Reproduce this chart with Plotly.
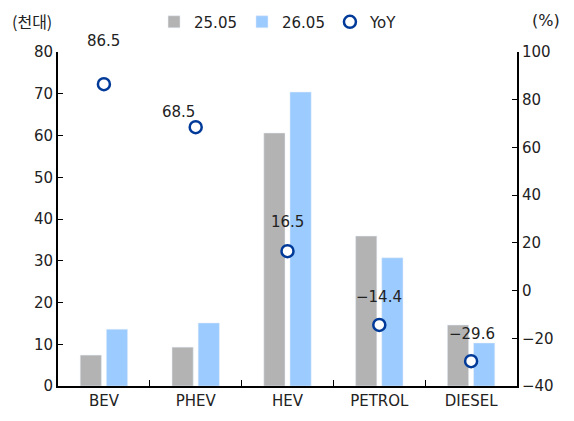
import plotly.graph_objects as go

categories = ["BEV", "PHEV", "HEV", "PETROL", "DIESEL"]
sales_2505 = [7.4, 9.3, 60.6, 35.9, 14.6]
sales_2605 = [13.6, 15.1, 70.4, 30.7, 10.3]
yoy = [86.5, 68.5, 16.5, -14.4, -29.6]
yoy_labels = ["86.5", "68.5", "16.5", "\u221214.4", "\u221229.6"]

# pixel offsets of the YoY labels relative to their markers
label_dx = [0, -17, 0, 0, 1]
label_dy = [43, 15, 29, 28, 27]

font = "DejaVu Sans, Noto Sans CJK KR, sans-serif"
txt = "#222222"

fig = go.Figure()
fig.add_bar(x=categories, y=sales_2505, name="25.05", marker_color="#b3b3b3")
fig.add_bar(x=categories, y=sales_2605, name="26.05", marker_color="#9ccbff")
fig.add_scatter(x=categories, y=yoy, name="YoY", yaxis="y2", mode="markers",
                marker=dict(symbol="circle", size=12, color="white",
                            line=dict(width=2.5, color="#003a99")))

for c, v, t, dx, dy in zip(categories, yoy, yoy_labels, label_dx, label_dy):
    fig.add_annotation(x=c, y=v, yref="y2", text=t, showarrow=False,
                       xshift=dx, yshift=dy, font=dict(size=15, color=txt))

axis_common = dict(showline=True, linecolor="black", linewidth=2,
                   ticks="inside", ticklen=5, tickcolor="black",
                   showgrid=False, zeroline=False, automargin=False,
                   tickfont=dict(size=15, color=txt))

# page body adds an 8px offset, so the figure is drawn 8px smaller
fig.update_layout(
    width=566, height=413,
    margin=dict(l=50, r=57, t=44, b=35),
    plot_bgcolor="white", paper_bgcolor="white",
    font=dict(family=font, size=15, color=txt),
    barmode="group", bargap=0.43, bargroupgap=0.19,
    xaxis=dict(axis_common, tickson="boundaries", ticklen=6),
    yaxis=dict(axis_common, range=[0, 80], dtick=10),
    yaxis2=dict(axis_common, range=[-40, 100], dtick=20, overlaying="y", side="right"),
    legend=dict(orientation="h", xref="container", yref="container",
                x=0.258, xanchor="left", y=0.966, yanchor="middle",
                font=dict(size=15), itemwidth=30, tracegroupgap=0),
    showlegend=True,
)
fig.add_annotation(text="(천대)", xref="paper", yref="paper", x=-0.105, y=1.094,
                   xanchor="left", yanchor="middle", showarrow=False,
                   font=dict(size=16, family="Noto Sans CJK KR"))
fig.add_annotation(text="(%)", xref="paper", yref="paper", x=1.098, y=1.094,
                   xanchor="right", yanchor="middle", showarrow=False,
                   font=dict(size=16, family="DejaVu Sans"))

fig.write_html("out.html")
